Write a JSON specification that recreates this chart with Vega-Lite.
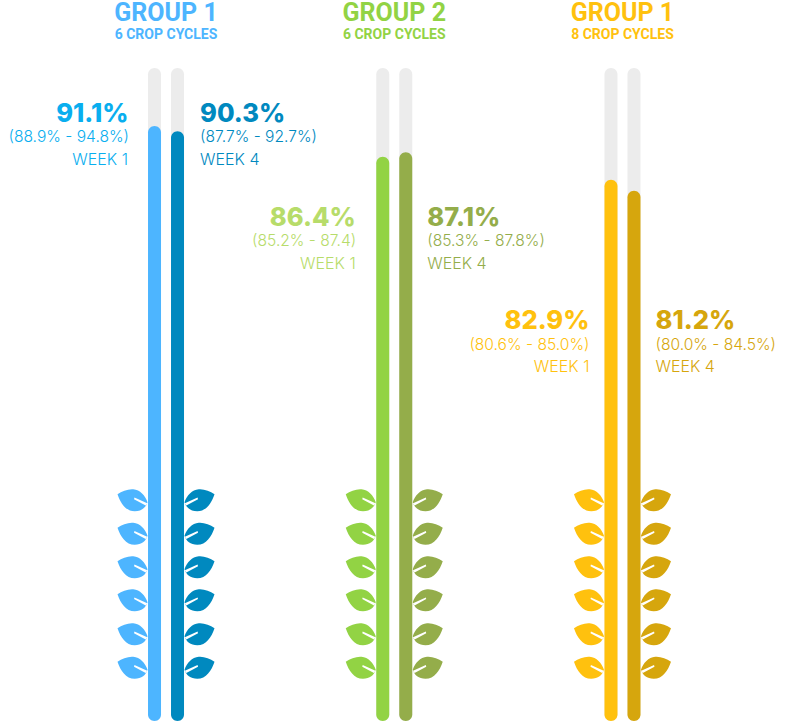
{
"$schema":"https://vega.github.io/schema/vega-lite/v6.json",
"width":785,"height":722,"padding":0,"autosize":{"type":"none"},
"background":"white","config":{"view":{"stroke":null}},
"datasets":{
"stems":[
{"panel":"A","stem":"A1","week":"WEEK 1","value":91.1,"label":"91.1%","interval":"(88.9% - 94.8%)"},
{"panel":"A","stem":"A4","week":"WEEK 4","value":90.3,"label":"90.3%","interval":"(87.7% - 92.7%)"},
{"panel":"B","stem":"B1","week":"WEEK 1","value":86.4,"label":"86.4%","interval":"(85.2% - 87.4)"},
{"panel":"B","stem":"B4","week":"WEEK 4","value":87.1,"label":"87.1%","interval":"(85.3% - 87.8%)"},
{"panel":"C","stem":"C1","week":"WEEK 1","value":82.9,"label":"82.9%","interval":"(80.6% - 85.0%)"},
{"panel":"C","stem":"C4","week":"WEEK 4","value":81.2,"label":"81.2%","interval":"(80.0% - 84.5%)"}],
"panels":[
{"panel":"A","group":"GROUP 1","cycles":"6 CROP CYCLES","stem":"A1","top":107.25,"sub":104.45},
{"panel":"B","group":"GROUP 2","cycles":"6 CROP CYCLES","stem":"B1","top":107.25,"sub":104.45},
{"panel":"C","group":"GROUP 1","cycles":"8 CROP CYCLES","stem":"C1","top":107.25,"sub":104.45}],
"leaves":[
{"panel":"A","stem":"A1","side":"L","h":33.84},{"panel":"A","stem":"A1","side":"L","h":28.71},{"panel":"A","stem":"A1","side":"L","h":23.58},{"panel":"A","stem":"A1","side":"L","h":18.53},{"panel":"A","stem":"A1","side":"L","h":13.32},{"panel":"A","stem":"A1","side":"L","h":8.19},
{"panel":"A","stem":"A4","side":"R","h":33.84},{"panel":"A","stem":"A4","side":"R","h":28.71},{"panel":"A","stem":"A4","side":"R","h":23.58},{"panel":"A","stem":"A4","side":"R","h":18.53},{"panel":"A","stem":"A4","side":"R","h":13.32},{"panel":"A","stem":"A4","side":"R","h":8.19},
{"panel":"B","stem":"B1","side":"L","h":33.84},{"panel":"B","stem":"B1","side":"L","h":28.71},{"panel":"B","stem":"B1","side":"L","h":23.58},{"panel":"B","stem":"B1","side":"L","h":18.53},{"panel":"B","stem":"B1","side":"L","h":13.32},{"panel":"B","stem":"B1","side":"L","h":8.19},
{"panel":"B","stem":"B4","side":"R","h":33.84},{"panel":"B","stem":"B4","side":"R","h":28.71},{"panel":"B","stem":"B4","side":"R","h":23.58},{"panel":"B","stem":"B4","side":"R","h":18.53},{"panel":"B","stem":"B4","side":"R","h":13.32},{"panel":"B","stem":"B4","side":"R","h":8.19},
{"panel":"C","stem":"C1","side":"L","h":33.84},{"panel":"C","stem":"C1","side":"L","h":28.71},{"panel":"C","stem":"C1","side":"L","h":23.58},{"panel":"C","stem":"C1","side":"L","h":18.53},{"panel":"C","stem":"C1","side":"L","h":13.32},{"panel":"C","stem":"C1","side":"L","h":8.19},
{"panel":"C","stem":"C4","side":"R","h":33.84},{"panel":"C","stem":"C4","side":"R","h":28.71},{"panel":"C","stem":"C4","side":"R","h":23.58},{"panel":"C","stem":"C4","side":"R","h":18.53},{"panel":"C","stem":"C4","side":"R","h":13.32},{"panel":"C","stem":"C4","side":"R","h":8.19}]
},
"data":{"name":"stems"},
"encoding":{
"x":{"field":"panel","type":"nominal","axis":null,"scale":{"domain":["A","B","C"],"range":[51.9,736.6],"paddingInner":0,"paddingOuter":0}},
"y":{"field":"value","type":"quantitative","axis":null,"scale":{"domain":[-0.15,110.41],"nice":false,"zero":false}}
},
"layer":[
{"transform":[{"filter":"datum.week==='WEEK 1'"}],"mark":{"type":"bar","width":13,"xOffset":-11.5,"cornerRadius":6.5,"color":"#ececec"},"encoding":{"y":{"datum":100},"y2":{"datum":0}}},
{"transform":[{"filter":"datum.week==='WEEK 4'"}],"mark":{"type":"bar","width":13,"xOffset":11.5,"cornerRadius":6.5,"color":"#ececec"},"encoding":{"y":{"datum":100},"y2":{"datum":0}}},
{"transform":[{"filter":"datum.week==='WEEK 1'"}],"mark":{"type":"bar","width":13,"xOffset":-11.5,"cornerRadius":6.5},"encoding":{"y2":{"datum":0},"color":{"field":"stem","type":"nominal","legend":null,"scale":{"domain":["A1","A4","B1","B4","C1","C4"],"range":["#4db5ff","#0089bf","#92d344","#94ad4a","#ffc10e","#d6a60d"]}}}},
{"transform":[{"filter":"datum.week==='WEEK 4'"}],"mark":{"type":"bar","width":13,"xOffset":11.5,"cornerRadius":6.5},"encoding":{"y2":{"datum":0},"color":{"field":"stem","type":"nominal","legend":null}}},
{"data":{"name":"leaves"},"transform":[{"filter":"datum.side==='L'"}],"mark":{"type":"point","filled":true,"opacity":1,"size":900,"xOffset":-33.5,"shape":"M-1,-0.39 C-0.7,-0.6 -0.3,-0.75 0.05,-0.72 C0.5,-0.68 0.85,-0.3 1,0.15 C0.9,0.5 0.6,0.75 0.15,0.75 C-0.45,0.75 -0.8,0.2 -1,-0.39 Z M0.13,-0.17 L0.1,-0.06 L0.88,0.36 L0.98,0.22 Z"},"encoding":{"y":{"field":"h","type":"quantitative"},"color":{"field":"stem","type":"nominal","legend":null}}},
{"data":{"name":"leaves"},"transform":[{"filter":"datum.side==='R'"}],"mark":{"type":"point","filled":true,"opacity":1,"size":900,"xOffset":33.5,"shape":"M1,-0.39 C0.7,-0.6 0.3,-0.75 -0.05,-0.72 C-0.5,-0.68 -0.85,-0.3 -1,0.15 C-0.9,0.5 -0.6,0.75 -0.15,0.75 C0.45,0.75 0.8,0.2 1,-0.39 Z M-0.13,-0.17 L-0.1,-0.06 L-0.88,0.36 L-0.98,0.22 Z"},"encoding":{"y":{"field":"h","type":"quantitative"},"color":{"field":"stem","type":"nominal","legend":null}}},

{"transform":[{"filter":"datum.stem==='A1'"}],"layer":[
{"mark":{"type":"text","font":"Inter","fontWeight":800,"fontSize":25.5,"align":"right","baseline":"alphabetic","color":"#09aeef","xOffset":-37.5,"dy":-4},"encoding":{"text":{"field":"label"}}},
{"mark":{"type":"text","font":"Inter","fontWeight":300,"fontSize":15.6,"align":"right","baseline":"alphabetic","color":"#09aeef","xOffset":-37,"dy":16},"encoding":{"text":{"field":"interval"}}},
{"mark":{"type":"text","font":"Inter","fontWeight":300,"fontSize":16,"align":"right","baseline":"alphabetic","color":"#09aeef","xOffset":-38,"dy":39},"encoding":{"text":{"field":"week"}}}]},
{"transform":[{"filter":"datum.stem==='A4'"}],"layer":[
{"mark":{"type":"text","font":"Inter","fontWeight":800,"fontSize":25.5,"align":"left","baseline":"alphabetic","color":"#0089bf","xOffset":34,"dy":-9},"encoding":{"text":{"field":"label"}}},
{"mark":{"type":"text","font":"Inter","fontWeight":300,"fontSize":15.6,"align":"left","baseline":"alphabetic","color":"#0089bf","xOffset":34,"dy":11},"encoding":{"text":{"field":"interval"}}},
{"mark":{"type":"text","font":"Inter","fontWeight":300,"fontSize":16,"align":"left","baseline":"alphabetic","color":"#0089bf","xOffset":34,"dy":34},"encoding":{"text":{"field":"week"}}}]},
{"transform":[{"filter":"datum.stem==='B1'"}],"layer":[
{"mark":{"type":"text","font":"Inter","fontWeight":800,"fontSize":25.5,"align":"right","baseline":"alphabetic","color":"#b7dc6a","xOffset":-38.5,"dy":69},"encoding":{"text":{"field":"label"}}},
{"mark":{"type":"text","font":"Inter","fontWeight":300,"fontSize":15.6,"align":"right","baseline":"alphabetic","color":"#b7dc6a","xOffset":-38,"dy":89.5},"encoding":{"text":{"field":"interval"}}},
{"mark":{"type":"text","font":"Inter","fontWeight":300,"fontSize":16,"align":"right","baseline":"alphabetic","color":"#b7dc6a","xOffset":-38.5,"dy":112},"encoding":{"text":{"field":"week"}}}]},
{"transform":[{"filter":"datum.stem==='B4'"}],"layer":[
{"mark":{"type":"text","font":"Inter","fontWeight":800,"fontSize":25.5,"align":"left","baseline":"alphabetic","color":"#94ad4a","xOffset":33,"dy":74},"encoding":{"text":{"field":"label"}}},
{"mark":{"type":"text","font":"Inter","fontWeight":300,"fontSize":15.6,"align":"left","baseline":"alphabetic","color":"#94ad4a","xOffset":33,"dy":94},"encoding":{"text":{"field":"interval"}}},
{"mark":{"type":"text","font":"Inter","fontWeight":300,"fontSize":16,"align":"left","baseline":"alphabetic","color":"#94ad4a","xOffset":33,"dy":117},"encoding":{"text":{"field":"week"}}}]},
{"transform":[{"filter":"datum.stem==='C1'"}],"layer":[
{"mark":{"type":"text","font":"Inter","fontWeight":800,"fontSize":25.5,"align":"right","baseline":"alphabetic","color":"#ffc10e","xOffset":-33,"dy":149},"encoding":{"text":{"field":"label"}}},
{"mark":{"type":"text","font":"Inter","fontWeight":300,"fontSize":15.6,"align":"right","baseline":"alphabetic","color":"#ffc10e","xOffset":-33,"dy":170},"encoding":{"text":{"field":"interval"}}},
{"mark":{"type":"text","font":"Inter","fontWeight":300,"fontSize":16,"align":"right","baseline":"alphabetic","color":"#ffc10e","xOffset":-33,"dy":192},"encoding":{"text":{"field":"week"}}}]},
{"transform":[{"filter":"datum.stem==='C4'"}],"layer":[
{"mark":{"type":"text","font":"Inter","fontWeight":800,"fontSize":25.5,"align":"left","baseline":"alphabetic","color":"#d6a60d","xOffset":33,"dy":138},"encoding":{"text":{"field":"label"}}},
{"mark":{"type":"text","font":"Inter","fontWeight":300,"fontSize":15.6,"align":"left","baseline":"alphabetic","color":"#d6a60d","xOffset":33,"dy":159},"encoding":{"text":{"field":"interval"}}},
{"mark":{"type":"text","font":"Inter","fontWeight":300,"fontSize":16,"align":"left","baseline":"alphabetic","color":"#d6a60d","xOffset":33,"dy":181},"encoding":{"text":{"field":"week"}}}]},

{"data":{"name":"panels"},"mark":{"type":"text","font":"Roboto","fontWeight":700,"fontSize":25,"align":"center","baseline":"alphabetic"},"encoding":{"y":{"field":"top","type":"quantitative"},"text":{"field":"group"},"color":{"field":"stem","type":"nominal","legend":null}}},
{"data":{"name":"panels"},"mark":{"type":"text","font":"Roboto","fontWeight":700,"fontSize":14,"align":"center","baseline":"alphabetic"},"encoding":{"y":{"field":"sub","type":"quantitative"},"text":{"field":"cycles"},"color":{"field":"stem","type":"nominal","legend":null}}}
]
}
